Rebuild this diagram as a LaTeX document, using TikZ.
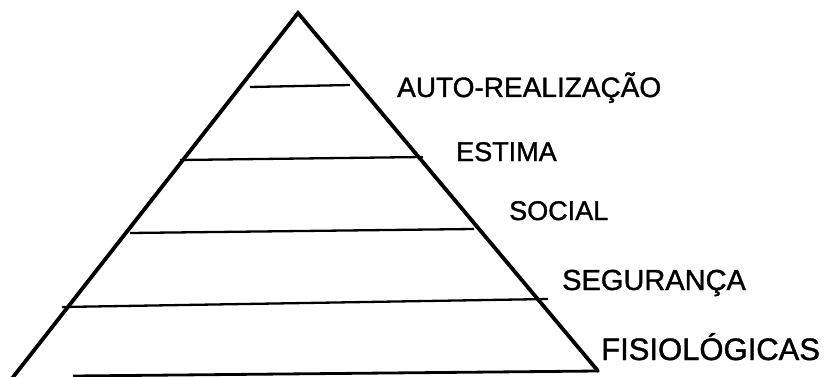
\documentclass[tikz,border=0pt]{standalone}
\usepackage{fontspec}
\setmainfont{Liberation Sans}
\newfontfamily\lblfont[FakeBold=1.3]{Liberation Sans}
\begin{document}
\begin{tikzpicture}[x=1pt,y=-1pt,
  side/.style={line width=3.8pt,line cap=round,line join=miter},
  level/.style={line width=2.3pt},
  base/.style={line width=2.8pt},
  lbl/.style={anchor=base west,inner sep=0pt}]
\useasboundingbox (0,0) rectangle (830,377);
\clip (0,0) rectangle (830,377);
% pyramid outline
\coordinate (apex) at (298,13);
\coordinate (bl) at (10,381);
\coordinate (br) at (598,371);
\coordinate (bs) at (73,376);
\draw[side] (bl) -- (apex) -- (br);
\draw[base] (bs) -- (br);
% level dividers
\coordinate (l1a) at (250,87);  \coordinate (l1b) at (350,85);
\coordinate (l2a) at (180,160); \coordinate (l2b) at (423,157);
\coordinate (l3a) at (130,233); \coordinate (l3b) at (474,229);
\coordinate (l4a) at (62,307);  \coordinate (l4b) at (548,299);
\draw[level] (l1a) -- (l1b);
\draw[level] (l2a) -- (l2b);
\draw[level] (l3a) -- (l3b);
\draw[level] (l4a) -- (l4b);
% level names
\node[lbl,font=\lblfont\fontsize{28}{28}\selectfont] (t1) at (397,97) {AUTO-REALIZAÇÃO};
\node[lbl,font=\lblfont\fontsize{27}{27}\selectfont] (t2) at (456,161) {ESTIMA};
\node[lbl,font=\lblfont\fontsize{27}{27}\selectfont] (t3) at (509,220) {SOCIAL};
\node[lbl,font=\lblfont\fontsize{29}{29}\selectfont] (t4) at (562,290) {SEGURANÇA};
\node[lbl,font=\lblfont\fontsize{31}{31}\selectfont] (t5) at (601,360) {FISIOLÓGICAS};
\end{tikzpicture}
\end{document}
